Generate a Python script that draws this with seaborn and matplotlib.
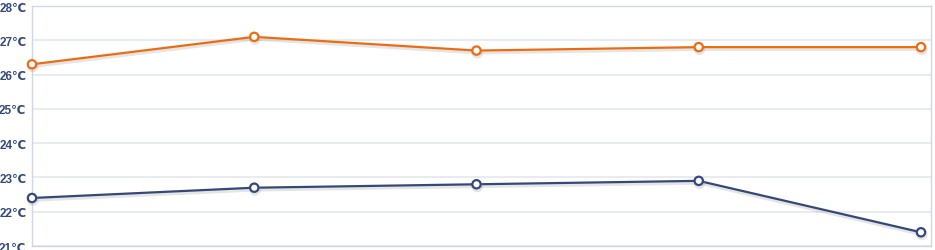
import matplotlib
matplotlib.use("Agg")
import matplotlib.pyplot as plt
import matplotlib.patheffects as pe
import seaborn as sns
import pandas as pd

categories = [0, 1, 2, 3, 4]
high_temps = [26.3, 27.1, 26.7, 26.8, 26.8]
low_temps = [22.4, 22.7, 22.8, 22.9, 21.4]
y_ticks = [21, 22, 23, 24, 25, 26, 27, 28]
y_labels = [f"{t}℃" for t in y_ticks]

df = pd.DataFrame({
    "x": categories * 2,
    "temp": high_temps + low_temps,
    "series": ["high"] * len(high_temps) + ["low"] * len(low_temps),
})

sns.set_theme(style="white")
plt.rcParams['font.family'] = ['Liberation Sans', 'DejaVu Sans']

W, H = 935, 251
fig = plt.figure(figsize=(W / 100, H / 100), dpi=100)
ax = fig.add_axes([32 / W, 4 / H, (931 - 32) / W, (247 - 7) / H])

palette = {"high": "#ee6c10", "low": "#34497a"}
sns.lineplot(data=df, x="x", y="temp", hue="series", palette=palette,
             marker="o", markersize=6, markerfacecolor="white",
             markeredgewidth=1.6, linewidth=1.6, legend=False, ax=ax)

for line in ax.get_lines():
    line.set_markeredgecolor(line.get_color())
    line.set_path_effects([pe.SimpleLineShadow(offset=(0.5, -1.5), shadow_color="#999999", alpha=0.25, linewidth=2.5),
                           pe.Normal()])
    line.set_clip_on(False)
    line.set_zorder(3)

ax.set_xlim(0, 4 + 10 / 222)
ax.set_ylim(21, 28)
ax.set_yticks(y_ticks)
ax.set_yticklabels(y_labels)
ax.set_xticks([])
ax.set_xlabel("")
ax.set_ylabel("")
ax.grid(axis="y", color="#e4e7ee", linewidth=1.2)
ax.set_axisbelow(True)
for s in ax.spines.values():
    s.set_color("#cdd7e6")
    s.set_linewidth(1)
ax.tick_params(axis="y", length=0, pad=4, labelsize=8.5, labelcolor="#34497a")
for lbl in ax.get_yticklabels():
    lbl.set_fontweight("bold")

fig.savefig("out.png", dpi=100)
